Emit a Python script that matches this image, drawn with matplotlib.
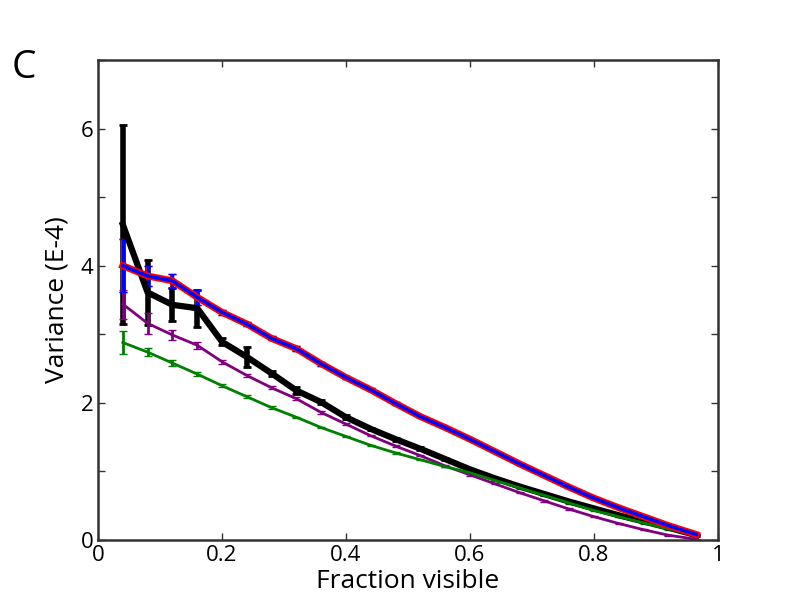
import numpy as np
import matplotlib
matplotlib.use('Agg')
from matplotlib import pyplot as plt
from matplotlib.ticker import MultipleLocator, FormatStrFormatter

plt.rcParams['font.family'] = ['Open Sans', 'DejaVu Sans']

# Fraction visible (x)
frac = [0.04, 0.08, 0.12, 0.16, 0.20, 0.24, 0.28, 0.32, 0.36, 0.40, 0.44, 0.48,
        0.52, 0.56, 0.60, 0.64, 0.68, 0.72, 0.76, 0.80, 0.84, 0.88, 0.92, 0.965]

# Variance (E-4), per series
var_black = [4.60, 3.61, 3.43, 3.38, 2.89, 2.67, 2.43, 2.18, 2.01, 1.79, 1.62, 1.47,
             1.33, 1.18, 1.03, 0.90, 0.78, 0.67, 0.56, 0.46, 0.36, 0.27, 0.18, 0.07]
err_black = [1.45, 0.47, 0.24, 0.27, 0.05, 0.14, 0.04, 0.05, 0.03, 0.03, 0.02, 0.02,
             0.02, 0.02, 0.01, 0.01, 0.01, 0.01, 0.01, 0.01, 0.01, 0.01, 0.01, 0.01]

var_blue = [4.00, 3.85, 3.78, 3.54, 3.32, 3.15, 2.94, 2.79, 2.57, 2.37, 2.19, 1.99,
            1.80, 1.64, 1.47, 1.29, 1.11, 0.94, 0.77, 0.61, 0.47, 0.34, 0.21, 0.08]
err_blue = [0.39, 0.14, 0.10, 0.11, 0.04, 0.03, 0.03, 0.04, 0.03, 0.02, 0.02, 0.02,
            0.01, 0.01, 0.01, 0.01, 0.01, 0.01, 0.01, 0.01, 0.01, 0.01, 0.01, 0.01]

var_purple = [3.44, 3.16, 2.99, 2.84, 2.60, 2.40, 2.22, 2.06, 1.86, 1.69, 1.52, 1.37,
              1.23, 1.08, 0.95, 0.82, 0.69, 0.57, 0.45, 0.34, 0.24, 0.15, 0.07, 0.01]
err_purple = [0.21, 0.15, 0.07, 0.05, 0.03, 0.02, 0.02, 0.02, 0.02, 0.01, 0.01, 0.01,
              0.01, 0.01, 0.01, 0.01, 0.01, 0.01, 0.01, 0.01, 0.01, 0.01, 0.01, 0.01]

var_green = [2.88, 2.74, 2.58, 2.42, 2.25, 2.09, 1.93, 1.79, 1.64, 1.51, 1.38, 1.27,
             1.17, 1.07, 0.98, 0.87, 0.76, 0.65, 0.54, 0.43, 0.34, 0.25, 0.16, 0.07]
err_green = [0.17, 0.06, 0.04, 0.03, 0.02, 0.02, 0.02, 0.01, 0.01, 0.01, 0.01, 0.01,
             0.01, 0.01, 0.01, 0.01, 0.01, 0.01, 0.01, 0.01, 0.01, 0.01, 0.01, 0.01]

fig = plt.figure(figsize=(8, 6), dpi=100)
ax = fig.add_axes([0.1225, 0.1, 0.775, 0.8])

# zwart eerst, andere lijnen erover
ax.errorbar(frac, var_black, yerr=err_black, color='black', lw=4.5, capsize=3, elinewidth=4, capthick=2)
ax.errorbar(frac, var_purple, yerr=err_purple, color='purple', lw=2, capsize=3, elinewidth=2)
ax.errorbar(frac, var_green, yerr=err_green, color='green', lw=2, capsize=3, elinewidth=2)
ax.errorbar(frac, var_blue, yerr=err_blue, color='red', lw=5, capsize=3, elinewidth=3)
ax.errorbar(frac, var_blue, yerr=err_blue, color='blue', lw=2.5, capsize=3, elinewidth=2.5)

ax.set_xlim(0, 1)
ax.set_ylim(0, 7)
ax.xaxis.set_major_locator(MultipleLocator(0.2))
ax.yaxis.set_major_locator(MultipleLocator(2))
ax.yaxis.set_minor_locator(MultipleLocator(1))
ax.xaxis.set_major_formatter(FormatStrFormatter('%g'))
ax.yaxis.set_major_formatter(FormatStrFormatter('%g'))
ax.tick_params(which='both', direction='in', top=True, right=True, length=5,
               width=1, color='#333333', labelsize=16)
for s in ax.spines.values():
    s.set_linewidth(1.8)
    s.set_color('#333333')

ax.set_xlabel('Fraction visible', fontsize=19, labelpad=2)
ax.set_ylabel('Variance (E-4)', fontsize=19, labelpad=8)
fig.text(0.015, 0.87, 'C', fontsize=28)

fig.savefig('out.png', dpi=100)
